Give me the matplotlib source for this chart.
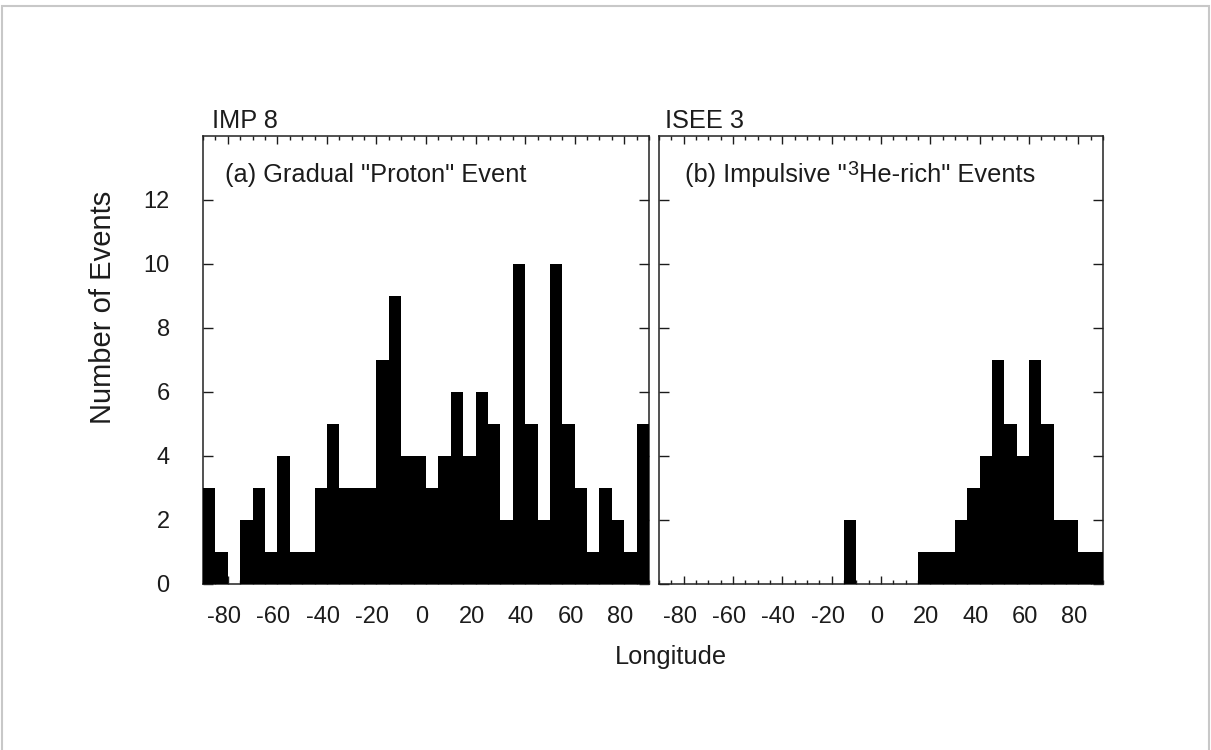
import numpy as np
import matplotlib
matplotlib.use("Agg")
import matplotlib.pyplot as plt
from matplotlib.patches import Rectangle
from matplotlib.ticker import MultipleLocator
from matplotlib.transforms import offset_copy, ScaledTranslation

plt.rcParams['font.family'] = ['Liberation Sans', 'DejaVu Sans']
plt.rcParams['axes.unicode_minus'] = False

# Longitude bin edges (5-degree bins from -90 to 90)
bin_edges = np.arange(-90, 91, 5)

# (a) IMP 8 gradual "proton" events
imp8_counts = [3, 1, 0, 2, 3, 1, 4, 1, 1, 3, 5, 3, 3, 3, 7, 9, 4, 4,
               3, 4, 6, 4, 6, 5, 2, 10, 5, 2, 10, 5, 3, 1, 3, 2, 1, 5]
# (b) ISEE 3 impulsive 3He-rich events
isee3_counts = [0, 0, 0, 0, 0, 0, 0, 0, 0, 0, 0, 0, 0, 0, 0, 2, 0, 0,
                0, 0, 0, 1, 1, 1, 2, 3, 4, 7, 5, 4, 7, 5, 2, 2, 1, 1]

x_ticks = [-80, -60, -40, -20, 0, 20, 40, 60, 80]
y_ticks = [0, 2, 4, 6, 8, 10, 12]

panel_titles = ["IMP 8", "ISEE 3"]
label_a = '(a) Gradual "Proton" Event'
label_b_parts = ['(b) Impulsive "', '3', 'He-rich" Events']

W, H = 1211, 750
fig = plt.figure(figsize=(W / 100, H / 100), dpi=100)
fig.patch.set_facecolor('white')

txt_color = '#1c1c1c'
fs_text = 18.3
fs_tick = 17
fs_ylab = 21

bottom = (H - 584) / H
height = 448 / H
axes_pos = [[203 / W, bottom, 446 / W, height],
            [659 / W, bottom, 444 / W, height]]

axes = []
for i, (counts, pos) in enumerate(zip([imp8_counts, isee3_counts], axes_pos)):
    ax = fig.add_axes(pos)
    axes.append(ax)
    ax.bar(bin_edges[:-1], counts, width=np.diff(bin_edges), align='edge',
           color='black', linewidth=0, zorder=3)
    ax.set_xlim(-90, 90)
    ax.set_ylim(0, 14)
    ax.set_xticks(x_ticks)
    ax.xaxis.set_minor_locator(MultipleLocator(5))
    ax.set_yticks(y_ticks)
    ax.tick_params(axis='both', which='both', direction='in', top=True,
                   right=True, colors=txt_color, width=1.0)
    ax.tick_params(axis='x', which='major', length=6, pad=16,
                   labelsize=fs_tick)
    ax.tick_params(axis='x', which='minor', length=3)
    ax.tick_params(axis='y', which='major', length=7, pad=24,
                   labelsize=fs_tick)
    # small leftward shift of x tick labels, as in the original
    shift = ScaledTranslation(-4 / 100, 0, fig.dpi_scale_trans)
    for lab in ax.get_xticklabels():
        lab.set_transform(lab.get_transform() + shift)
    for sp in ax.spines.values():
        sp.set_linewidth(1.1)
        sp.set_color('#222222')
    if i == 0:
        ax.set_ylabel('Number of Events', fontsize=fs_ylab, color=txt_color)
        ax.yaxis.set_label_coords(-0.193, 0.617)
        tx = 0.02
    else:
        ax.set_yticklabels([])
        tx = 0.0135
    ax.text(tx, 1.018, panel_titles[i], transform=ax.transAxes,
            fontsize=fs_text, color=txt_color, ha='left', va='baseline')

ly = 0.897
axes[0].text(0.049, ly, label_a, transform=axes[0].transAxes,
             fontsize=fs_text, color=txt_color, ha='left', va='baseline')

# panel (b) label with a raised "3"
axb = axes[1]
renderer = fig.canvas.get_renderer()
t1 = axb.text(0.058, ly, label_b_parts[0], transform=axb.transAxes,
              fontsize=fs_text, color=txt_color, ha='left', va='baseline')
w1 = t1.get_window_extent(renderer=renderer).width
t2 = axb.text(0.058, ly, label_b_parts[1],
              transform=offset_copy(axb.transAxes, fig=fig, x=w1 + 1, y=7,
                                    units='dots'),
              fontsize=fs_text * 0.78, color=txt_color, ha='left',
              va='baseline')
w2 = t2.get_window_extent(renderer=renderer).width
axb.text(0.058, ly, label_b_parts[2],
         transform=offset_copy(axb.transAxes, fig=fig, x=w1 + w2 + 1, y=0,
                               units='dots'),
         fontsize=fs_text, color=txt_color, ha='left', va='baseline')

fig.text(671 / W, 1 - 657 / H, 'Longitude', fontsize=fs_text,
         color=txt_color, ha='center', va='center')

# light gray frame around the figure
fig.patches.append(Rectangle((2 / W, -0.05), 1207 / W, 1.05 - 6 / H,
                             transform=fig.transFigure, fill=False,
                             edgecolor='#c8c8c8', linewidth=1.5))

fig.savefig('out.png', dpi=100, facecolor='white')
